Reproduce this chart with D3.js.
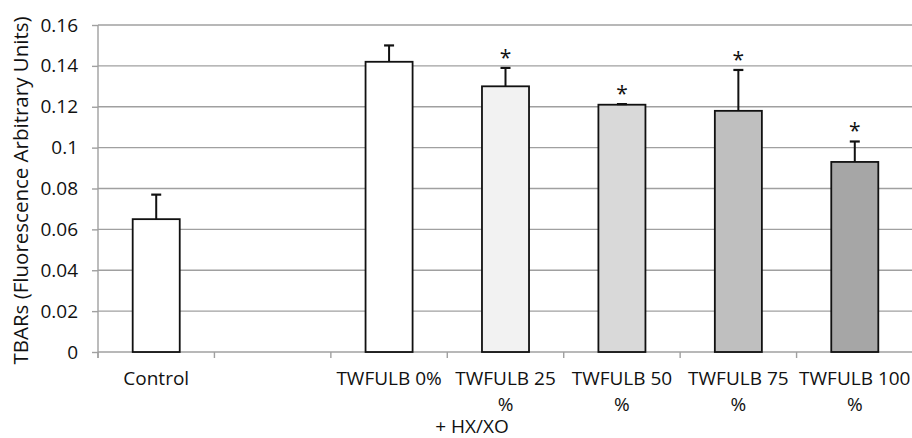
<!DOCTYPE html>
<html>
<head>
<meta charset="utf-8">
<script src="https://cdn.jsdelivr.net/npm/d3@7"></script>
<style>
  html, body { margin: 0; padding: 0; background: #fff; }
  text { font-family: "Open Sans", "Noto Sans", sans-serif; fill: #111; }
</style>
</head>
<body>
<svg id="chart" width="912" height="438"></svg>
<script>
// data
var categories = ['Control', '', 'TWFULB 0%', 'TWFULB 25 %', 'TWFULB 50 %', 'TWFULB 75 %', 'TWFULB 100 %'];
var tickLines = [['Control'], [''], ['TWFULB 0%'], ['TWFULB 25', '%'], ['TWFULB 50', '%'], ['TWFULB 75', '%'], ['TWFULB 100', '%']];
var values = [0.065, null, 0.142, 0.130, 0.121, 0.118, 0.093];
var errors = [0.012, null, 0.008, 0.009, 0.0003, 0.020, 0.010];
var significant = [false, false, false, true, true, true, true];
var fills = ['#ffffff', null, '#ffffff', '#f2f2f2', '#d9d9d9', '#bfbfbf', '#a6a6a6'];
var yTicks = [0, 0.02, 0.04, 0.06, 0.08, 0.1, 0.12, 0.14, 0.16];

var svg = d3.select('#chart');
var plotL = 98, plotR = 913, plotT = 25, plotB = 352;

var idx = d3.range(categories.length);
var x = d3.scaleBand().domain(idx).range([plotL, plotR]).paddingInner(0.596).paddingOuter(0.298);
var y = d3.scaleLinear().domain([0, 0.16]).range([plotB, plotT]);
var step = x.step();

// gridlines
svg.append('g').selectAll('line.grid').data(yTicks.slice(1)).enter().append('line')
    .attr('x1', plotL).attr('x2', 912)
    .attr('y1', function(d) { return y(d); }).attr('y2', function(d) { return y(d); })
    .attr('stroke', '#a0a0a0').attr('stroke-width', 1.4);

// y axis
var yAxis = svg.append('g').attr('transform', 'translate(' + plotL + ',0)')
    .call(d3.axisLeft(y).tickValues(yTicks).tickSize(6).tickPadding(14)
        .tickFormat(function(d) { return d === 0 ? '0' : String(+d.toFixed(2)); }));
yAxis.select('.domain').attr('stroke', '#a0a0a0').attr('stroke-width', 1.4).attr('d', 'M0,' + plotT + 'V' + (plotB + 6));
yAxis.selectAll('.tick line').attr('stroke', '#a0a0a0').attr('stroke-width', 1.4);
yAxis.selectAll('.tick text').attr('font-size', 19).attr('fill', '#111').style('font-family', '"Open Sans", sans-serif');

// x axis line and boundary ticks
svg.append('line').attr('x1', plotL).attr('x2', 912).attr('y1', plotB).attr('y2', plotB)
    .attr('stroke', '#a0a0a0').attr('stroke-width', 1.4);
svg.append('g').selectAll('line').data(d3.range(categories.length + 1)).enter().append('line')
    .attr('x1', function(i) { return plotL + i * step; }).attr('x2', function(i) { return plotL + i * step; })
    .attr('y1', plotB).attr('y2', plotB + 6)
    .attr('stroke', '#a0a0a0').attr('stroke-width', 1.4);

// category labels
var lab = svg.append('g').selectAll('text').data(idx).enter().append('text')
    .attr('text-anchor', 'middle').attr('font-size', 19)
    .attr('transform', function(i) { return 'translate(' + (x(i) + x.bandwidth() / 2) + ',385)'; });
lab.selectAll('tspan').data(function(i) { return tickLines[i]; }).enter().append('tspan')
    .attr('x', 0).attr('dy', function(d, j) { return j === 0 ? 0 : 26; })
    .text(function(d) { return d; });

svg.append('text').attr('x', 472).attr('y', 433).attr('text-anchor', 'middle')
    .attr('font-size', 19).text('+ HX/XO');

// bars
var data = idx.filter(function(i) { return values[i] !== null; });
svg.append('g').selectAll('rect').data(data).enter().append('rect')
    .attr('x', function(i) { return x(i); })
    .attr('y', function(i) { return y(values[i]); })
    .attr('width', x.bandwidth())
    .attr('height', function(i) { return y(0) - y(values[i]); })
    .attr('fill', function(i) { return fills[i]; })
    .attr('stroke', '#111').attr('stroke-width', 1.8);

// error bars (upper only)
var err = svg.append('g').selectAll('g').data(data).enter().append('g');
err.append('line')
    .attr('x1', function(i) { return x(i) + x.bandwidth() / 2; })
    .attr('x2', function(i) { return x(i) + x.bandwidth() / 2; })
    .attr('y1', function(i) { return y(values[i]); })
    .attr('y2', function(i) { return y(values[i] + errors[i]); })
    .attr('stroke', '#111').attr('stroke-width', 2);
err.append('line')
    .attr('x1', function(i) { return x(i) + x.bandwidth() / 2 - 5; })
    .attr('x2', function(i) { return x(i) + x.bandwidth() / 2 + 5; })
    .attr('y1', function(i) { return y(values[i] + errors[i]); })
    .attr('y2', function(i) { return y(values[i] + errors[i]); })
    .attr('stroke', '#111').attr('stroke-width', 2.2);

// significance stars
svg.append('g').selectAll('text').data(data.filter(function(i) { return significant[i]; })).enter().append('text')
    .attr('x', function(i) { return x(i) + x.bandwidth() / 2; })
    .attr('y', function(i) { return y(values[i] + errors[i]) - 3; })
    .attr('text-anchor', 'middle').attr('font-size', 21)
    .text('*');

// y title
svg.append('text')
    .attr('transform', 'translate(28,' + ((plotT + plotB) / 2 + 2) + ') rotate(-90)')
    .attr('text-anchor', 'middle').attr('font-size', 20.5)
    .text('TBARs (Fluorescence Arbitrary Units)');
</script>
</body>
</html>
